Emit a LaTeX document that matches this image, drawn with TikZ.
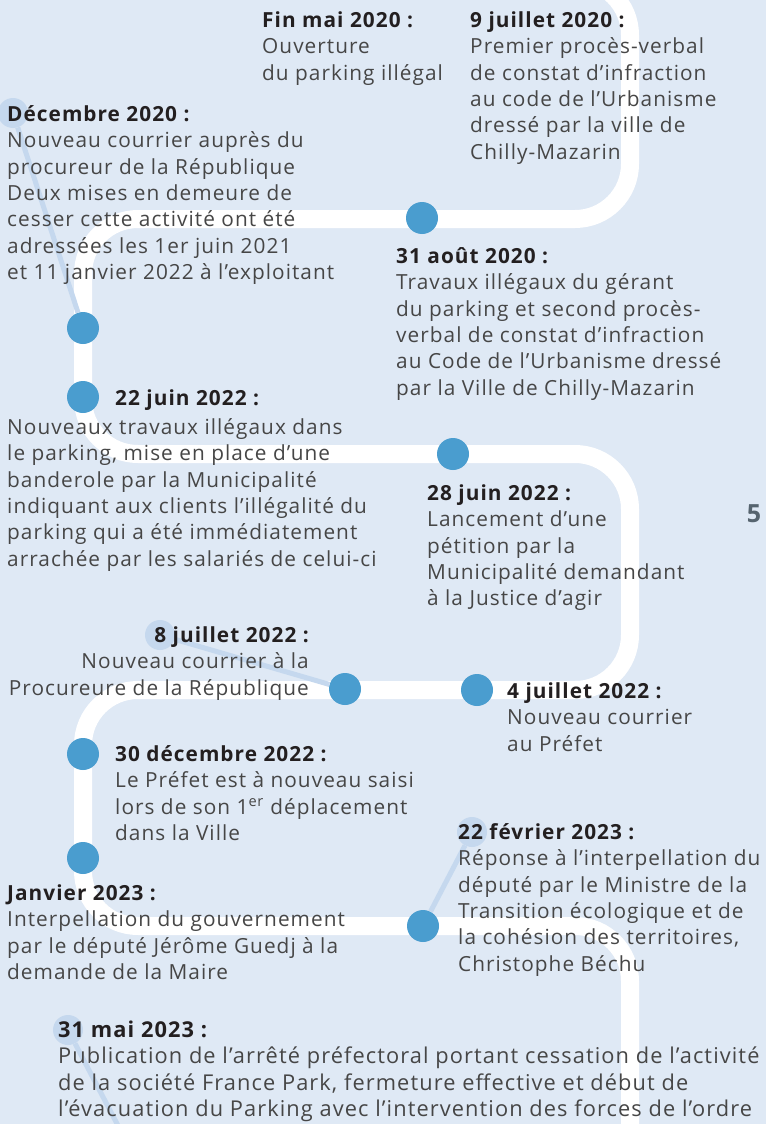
\documentclass[tikz,border=0pt]{standalone}
\usepackage{fontspec}
\setmainfont{Open Sans}[LetterSpace=5]

\definecolor{fond}{HTML}{DFE9F5}
\definecolor{bleupastille}{HTML}{4A9DCF}
\definecolor{bleupale}{HTML}{C5D8EE}
\definecolor{gristexte}{HTML}{464646}
\definecolor{noirdate}{HTML}{231F20}
\definecolor{grisfolio}{HTML}{56646F}

\newcommand{\quand}[1]{\strut{\bfseries\color{noirdate}#1}}

\begin{document}
\begin{tikzpicture}[x=1pt,y=-1pt,
	pastille/.style={circle,fill=bleupastille,minimum size=32pt,inner sep=0pt},
	repere/.style={circle,fill=bleupale,minimum size=30pt,inner sep=0pt},
	lien/.style={bleupale,line width=5pt},
	evt/.style={anchor=north west,align=left,inner sep=0pt,text=gristexte,font=\fontsize{20.8}{26.4}\selectfont}]
			\path[use as bounding box] (0,0) rectangle (766,1124);
			\clip (0,0) rectangle (766,1124);
			\fill[fond] (0,0) rectangle (766,1124);
			% le chemin blanc
			\draw[white,line width=18pt,rounded corners=55pt] (540,-20) -- (630,-20) -- (630,219) -- (83,219) -- (83,454) -- (630,454) -- (630,690) -- (83,690) -- (83,926) -- (630,926) -- (630,1180);
			% pastilles
			\node[pastille] (aout) at (422,218) {};
			\node[pastille] (dec) at (83,328) {};
			\node[pastille] (juin) at (83,397) {};
			\node[pastille] (juin28) at (453,454) {};
			\node[pastille] (juil04) at (477,690) {};
			\node[pastille] (juil08) at (345,689) {};
			\node[pastille] (dec22) at (83,754) {};
			\node[pastille] (janv) at (83,858) {};
			\node[pastille] (fev) at (423,926) {};
			\node[repere] (rdec) at (13,113) {};
			\node[repere] (rjuil) at (160,635) {};
			\node[repere] (rfev) at (472,832) {};
			\node[repere] (rmai) at (68,1030) {};
			\coordinate (bas) at (136,1160);
			\draw[lien] (rdec) -- (dec);
			\draw[lien] (rjuil) -- (juil08);
			\draw[lien] (rfev) -- (fev);
			\draw[lien] (rmai) -- (bas);
			% textes
			\node[evt] (tfinmai) at (262,8.6) {\quand{Fin mai 2020 :}\\Ouverture\\du parking illégal};
			\node[evt] (tjuil20) at (470,8.6) {\quand{9 juillet 2020 :}\\Premier procès-verbal\\de constat d’infraction\\au code de l’Urbanisme\\dressé par la ville de\\Chilly-Mazarin};
			\node[evt] (tdec20) at (7,102.6) {\quand{Décembre 2020 :}\\Nouveau courrier auprès du\\procureur de la République\\Deux mises en demeure de\\cesser cette activité ont été\\adressées les 1er juin 2021\\et 11 janvier 2022 à l’exploitant};
			\node[evt] (taout20) at (396,244.6) {\quand{31 août 2020 :}\\Travaux illégaux du gérant\\du parking et second procès-\\verbal de constat d’infraction\\au Code de l’Urbanisme dressé\\par la Ville de Chilly-Mazarin};
			\node[evt] (tjuin22d) at (115,386.6) {\quand{22 juin 2022 :}};
			\node[evt] (tjuin22) at (7,415.6) {\strut Nouveaux travaux illégaux dans\\le parking, mise en place d’une\\banderole par la Municipalité\\indiquant aux clients l’illégalité du\\parking qui a été immédiatement\\arrachée par les salariés de celui-ci};
			\node[evt] (tjuin28) at (427,481.6) {\quand{28 juin 2022 :}\\Lancement d’une\\pétition par la\\Municipalité demandant\\à la Justice d’agir};
			\node[evt,anchor=north east,align=right] (tjuil08) at (309,623.6) {\quand{8 juillet 2022 :}\\Nouveau courrier à la\\Procureure de la République};
			\node[evt] (tjuil04) at (507,679.6) {\quand{4 juillet 2022 :}\\Nouveau courrier\\au Préfet};
			\node[evt] (tdec22) at (115,742.6) {\quand{30 décembre 2022 :}\\Le Préfet est à nouveau saisi\\lors de son 1\textsuperscript{er} déplacement\\dans la Ville};
			\node[evt] (tfev23) at (458,820.6) {\quand{22 février 2023 :}\\Réponse à l’interpellation du\\député par le Ministre de la\\Transition écologique et de\\la cohésion des territoires,\\Christophe Béchu};
			\node[evt] (tjanv23) at (7,881.6) {\quand{Janvier 2023 :}\\Interpellation du gouvernement\\par le député Jérôme Guedj à la\\demande de la Maire};
			\node[evt,font=\fontsize{21.8}{26.4}\selectfont] (tmai23) at (58,1018.6) {\quand{31 mai 2023 :}\\Publication de l’arrêté préfectoral portant cessation de l’activité\\de la société France Park, fermeture effective et début de\\l’évacuation du Parking avec l’intervention des forces de l’ordre};
			\node[text=grisfolio,font=\bfseries\fontsize{25}{25}\selectfont] (folio) at (754,514) {5};
\end{tikzpicture}
\end{document}
